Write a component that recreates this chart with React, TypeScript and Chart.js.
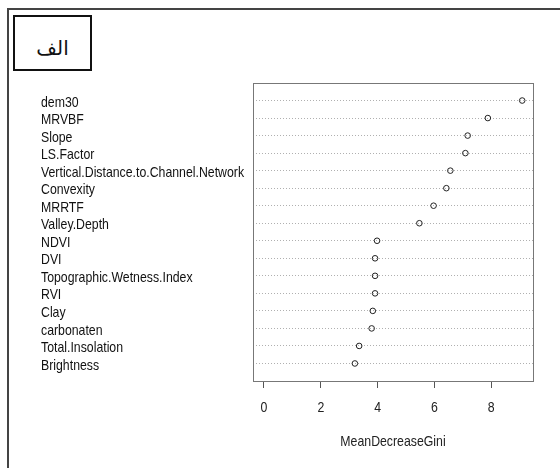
import React, { useEffect, useRef } from "react";
import { Chart, registerables } from "chart.js";

Chart.register(...registerables);

// ---- data (top row first) ----
const FEATURES = [
  "dem30",
  "MRVBF",
  "Slope",
  "LS.Factor",
  "Vertical.Distance.to.Channel.Network",
  "Convexity",
  "MRRTF",
  "Valley.Depth",
  "NDVI",
  "DVI",
  "Topographic.Wetness.Index",
  "RVI",
  "Clay",
  "carbonaten",
  "Total.Insolation",
  "Brightness",
];
const GINI = [9.09, 7.88, 7.17, 7.09, 6.56, 6.42, 5.97, 5.47, 3.98, 3.91, 3.91, 3.91, 3.83, 3.79, 3.35, 3.2];
const X_TICKS = [0, 2, 4, 6, 8];
const X_TITLE = "MeanDecreaseGini";
const PANEL_LABEL = "الف";

const FONT = "'Liberation Sans', Arial, sans-serif";
const NARROW = 0.82; // horizontal condensing of the chart's text (Arial Narrow look)
const TEXT_DY = 2; // small downward shift of the chart's text

// draws the chart's text horizontally condensed
const narrowText = {
  id: "narrowText",
  beforeDraw(chart: any) {
    const ctx = chart.ctx;
    if (ctx.__origFillText) return;
    const orig = ctx.fillText;
    ctx.__origFillText = orig;
    ctx.fillText = function (text: string, x: number, y: number, maxWidth?: number) {
      this.save();
      this.translate(x, y + TEXT_DY);
      this.scale(NARROW, 1);
      if (maxWidth === undefined || maxWidth === null) orig.call(this, text, 0, 0);
      else orig.call(this, text, 0, 0, maxWidth / NARROW);
      this.restore();
    };
  },
  afterDraw(chart: any) {
    const ctx = chart.ctx;
    if (ctx.__origFillText) {
      ctx.fillText = ctx.__origFillText;
      delete ctx.__origFillText;
    }
  },
};

const plotBox = {
  id: "plotBox",
  afterDatasetsDraw(chart: any) {
    const { ctx, chartArea } = chart;
    ctx.save();
    ctx.strokeStyle = "#777";
    ctx.lineWidth = 1;
    ctx.strokeRect(
      Math.round(chartArea.left) + 0.5,
      Math.round(chartArea.top) + 0.5,
      Math.round(chartArea.right - chartArea.left),
      Math.round(chartArea.bottom - chartArea.top)
    );
    ctx.restore();
  },
};

export default function App() {
  const canvasRef = useRef<HTMLCanvasElement | null>(null);

  useEffect(() => {
    const n = FEATURES.length;
    const points = GINI.map((v, i) => ({ x: v, y: n - i }));
    const chart = new Chart(canvasRef.current as HTMLCanvasElement, {
      type: "scatter",
      data: {
        datasets: [
          {
            data: points,
            pointStyle: "circle",
            pointRadius: 2.8,
            pointBorderWidth: 1,
            pointBorderColor: "#222",
            pointBackgroundColor: "rgba(255,255,255,0)",
            showLine: false,
            clip: false as any,
          },
        ],
      },
      options: {
        animation: false,
        responsive: false,
        devicePixelRatio: 1,
        layout: { padding: { left: 41, right: 27, top: 83, bottom: 0 } },
        plugins: {
          legend: { display: false },
          tooltip: { enabled: false },
        },
        scales: {
          x: {
            type: "linear",
            min: -0.387,
            max: 9.47,
            afterBuildTicks: (scale: any) => {
              scale.ticks = X_TICKS.map((v) => ({ value: v }));
            },
            afterFit: (scale: any) => {
              scale.height = 87;
            },
            border: { display: false },
            grid: {
              display: true,
              drawOnChartArea: false,
              drawTicks: true,
              tickLength: 7,
              tickColor: "#555",
              tickWidth: 1,
            },
            ticks: {
              color: "#222",
              padding: 9,
              font: { family: FONT, size: 15 },
              maxRotation: 0,
              autoSkip: false,
              callback: (v: any) => String(v),
            },
            title: {
              display: true,
              text: X_TITLE,
              color: "#222",
              font: { family: FONT, size: 15 },
              padding: { top: 0, bottom: 19 },
            },
          },
          y: {
            type: "linear",
            min: 0,
            max: n + 1,
            afterBuildTicks: (scale: any) => {
              scale.ticks = FEATURES.map((_, i) => ({ value: n - i }));
            },
            afterFit: (scale: any) => {
              scale.width = 212;
            },
            border: { display: false, dash: [1, 2] },
            grid: {
              display: true,
              drawOnChartArea: true,
              drawTicks: false,
              color: "#b0b0b0",
              lineWidth: 1,
            },
            ticks: {
              crossAlign: "far",
              color: "#111",
              autoSkip: false,
              font: { family: FONT, size: 15 },
              callback: (v: any) => FEATURES[n - Number(v)] ?? "",
            },
          },
        },
      },
      plugins: [narrowText, plotBox],
    });
    return () => chart.destroy();
  }, []);

  return (
    <div style={{ position: "absolute", left: 0, top: 0, width: 560, height: 468, background: "#fff", overflow: "hidden" }}>
      <canvas ref={canvasRef} width={560} height={468} style={{ display: "block", width: 560, height: 468 }} />
      <div
        style={{
          position: "absolute",
          left: 7,
          top: 8,
          width: 570,
          height: 480,
          borderLeft: "2px solid #444",
          borderTop: "2px solid #444",
          boxSizing: "border-box",
          pointerEvents: "none",
        }}
      />
      <div
        style={{
          position: "absolute",
          left: 13,
          top: 15,
          width: 79,
          height: 56,
          border: "2px solid #111",
          boxSizing: "border-box",
          display: "flex",
          alignItems: "center",
          justifyContent: "center",
          fontFamily: "'DejaVu Sans', 'Noto Sans', sans-serif",
          fontSize: 20,
          color: "#111",
          direction: "rtl",
          paddingTop: 9,
          background: "#fff",
        }}
      >
        {PANEL_LABEL}
      </div>
    </div>
  );
}
